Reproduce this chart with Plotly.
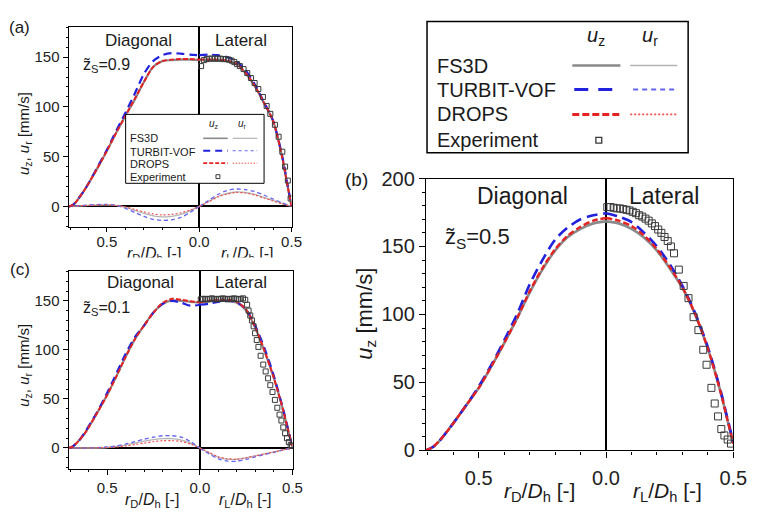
import plotly.graph_objects as go

W, H = 763, 515
FONT = "Liberation Sans, Arial, sans-serif"

# ================= DATA =================
# ---- Panel (a): z_S = 0.9 ----
a_rd = [0.707, 0.69, 0.67, 0.65, 0.62, 0.6, 0.55, 0.5, 0.45, 0.4, 0.35, 0.3, 0.25, 0.2, 0.15, 0.1, 0.05, 0.0]
a_uz_d_fs3d = [0, 1, 4, 9, 17, 23, 39, 56, 74, 91, 107, 125, 140, 146, 147, 147.5, 147.5, 147]
a_uz_d_drops = [0, 1, 4, 9, 17, 23, 39, 56, 74, 91, 108, 125, 140, 146, 147.5, 148, 148, 147.5]
a_uz_d_turbit = [0, 1, 4, 9, 17, 23, 40, 57, 76, 94, 113, 133, 146, 152, 154, 153.5, 152.5, 152]
a_rl = [0, 0.05, 0.1, 0.15, 0.2, 0.25, 0.3, 0.35, 0.4, 0.45, 0.475, 0.5]
a_uz_l_fs3d = [147, 147, 147, 146, 143, 134, 121, 104, 86, 49, 24, 0]
a_uz_l_drops = [147.5, 147.5, 147.5, 146.5, 143.5, 134.5, 121.5, 104.5, 86, 49, 24, 0]
a_uz_l_turbit = [152, 152.5, 152, 150, 146, 137, 123, 105, 86, 50, 25, 0]
a_rd_r = [0.707, 0.6, 0.5, 0.45, 0.4, 0.35, 0.3, 0.25, 0.2, 0.15, 0.1, 0.05, 0]
a_ur_d_fs3d = [0, 1, 1.5, 1, -1, -4, -7, -9.5, -10.5, -10, -8, -4.5, 0]
a_ur_d_turbit = [0, 1.5, 2, 1, -2, -6, -10, -13, -14, -13.5, -11, -6, 0]
a_ur_d_drops = [0, 1, 1.5, 1, -0.5, -3, -5.5, -7.5, -8.5, -8, -6.5, -3.5, 0]
a_rl_r = [0, 0.05, 0.1, 0.15, 0.2, 0.25, 0.3, 0.35, 0.4, 0.45, 0.5]
a_ur_l_fs3d = [0, 5, 10, 13, 14.5, 14, 12, 9, 6, 3, 0]
a_ur_l_turbit = [0, 6, 12, 16, 17.5, 17, 15, 11.5, 7.5, 3.5, 0]
a_ur_l_drops = [0, 4.5, 9.5, 12.5, 14, 13.5, 11.5, 8.5, 5.5, 2.5, 0]
a_exp_r = [0.01, 0.025, 0.04, 0.055, 0.07, 0.085, 0.1, 0.115, 0.13, 0.145, 0.16, 0.175, 0.19, 0.205, 0.22,
           0.24, 0.26, 0.28, 0.3, 0.32, 0.345, 0.365, 0.385, 0.41, 0.43, 0.45, 0.465, 0.48, 0.495]
a_exp_uz = [141, 147, 148, 148.5, 148.5, 148.5, 148.5, 148.5, 148, 148, 147.5, 146.5, 145, 143, 141,
            138, 134, 129, 124, 118, 110, 101, 93, 82, 70, 55, 40, 26, 8]

# ---- Panel (c): z_S = 0.1 ----
c_rd = [0.707, 0.69, 0.67, 0.65, 0.62, 0.6, 0.55, 0.5, 0.45, 0.4, 0.35, 0.3, 0.25, 0.2, 0.15, 0.1, 0.05, 0.0]
c_uz_d_fs3d = [0, 1, 4, 8, 15, 21, 37, 54, 73, 93, 111, 125, 138, 147, 150.5, 150, 149, 148]
c_uz_d_drops = [0, 1, 4, 8, 15, 21, 37, 54, 73, 93, 111, 125, 138, 148, 152, 151, 149.5, 148.5]
c_uz_d_turbit = [0, 1, 4, 8, 16, 22, 38, 56, 76, 96, 113, 125, 138, 147, 150, 148, 145, 146]
c_rl = [0, 0.05, 0.1, 0.15, 0.2, 0.25, 0.3, 0.35, 0.4, 0.45, 0.475, 0.5]
c_uz_l_fs3d = [148, 149.5, 150, 150, 148, 140, 122, 98, 71, 38, 19, 0]
c_uz_l_drops = [148.5, 150, 151, 151, 149, 141, 122.5, 98.5, 71, 38, 19, 0]
c_uz_l_turbit = [146, 147, 149, 150, 148.5, 141, 124, 101, 73, 39, 20, 0]
c_rd_r = [0.707, 0.6, 0.5, 0.45, 0.4, 0.35, 0.3, 0.25, 0.2, 0.15, 0.1, 0.05, 0]
c_ur_d_fs3d = [0, 0, 0.5, 1.5, 3, 5, 7, 8.5, 9.5, 9.5, 8, 5, 0]
c_ur_d_turbit = [0, 0, 1, 2, 4, 6.5, 9, 11, 12.5, 12.5, 11, 6.5, 0]
c_ur_d_drops = [0, 0, 0.5, 1, 2, 3.5, 5, 6.5, 7.5, 7.5, 6.5, 4, 0]
c_rl_r = [0, 0.05, 0.1, 0.15, 0.2, 0.25, 0.3, 0.35, 0.4, 0.45, 0.5]
c_ur_l_fs3d = [0, -5, -9.5, -11.5, -11.5, -10, -8, -6, -4, -2, 0]
c_ur_l_turbit = [0, -6, -11, -13.5, -13.5, -11.5, -9, -6.5, -4.5, -2, 0]
c_ur_l_drops = [0, -4.5, -9, -11, -11.5, -10, -8, -6, -4, -2, 0]
c_exp_r = [0.005, 0.017, 0.029, 0.041, 0.053, 0.065, 0.077, 0.089, 0.101, 0.113, 0.125, 0.137, 0.149,
           0.161, 0.173, 0.185, 0.197, 0.209, 0.221, 0.233, 0.245,
           0.255, 0.263, 0.272, 0.281, 0.29, 0.298, 0.307, 0.316, 0.328, 0.342, 0.355, 0.368,
           0.38, 0.392, 0.405, 0.418, 0.43, 0.44, 0.45, 0.46, 0.47, 0.48, 0.49, 0.497]
c_exp_uz = [151.5, 152, 152, 151.5, 152, 152.5, 152, 151.5, 152, 152, 152.5, 152, 151.5,
            152, 152, 152.5, 152, 151.5, 152, 152.5, 151,
            146, 140, 135, 130, 124, 117, 110, 103, 94, 85, 78, 71,
            64, 57, 49, 41, 34, 28, 21, 15, 10, 6, 3, 2]

# ---- Panel (b): z_S = 0.5 ----
b_rd = [0.707, 0.68, 0.65, 0.6, 0.55, 0.5, 0.45, 0.4, 0.35, 0.3, 0.25, 0.2, 0.15, 0.1, 0.05, 0.0]
b_uz_d_fs3d = [0, 2.5, 8, 20, 33, 46, 62, 79, 97, 116, 133, 147, 157, 163, 167, 168.5]
b_uz_d_drops = [0, 2.5, 8, 20, 33, 46, 62, 79, 97, 117, 134, 148, 158, 164.5, 169, 171]
b_uz_d_turbit = [0, 2.5, 8, 20, 33, 47, 63, 81, 100, 122, 140, 155, 164, 170, 173, 174.5]
b_rl = [0, 0.05, 0.1, 0.15, 0.2, 0.25, 0.3, 0.35, 0.4, 0.45, 0.475, 0.5]
b_uz_l_fs3d = [168.5, 167, 163, 156.5, 147, 134, 119.5, 100, 75, 43, 24, 5]
b_uz_l_drops = [171, 169, 165, 158, 148, 135, 120, 100.5, 75, 43, 24, 5]
b_uz_l_turbit = [174.5, 172, 168, 160, 150, 137, 121, 101, 76, 44, 25, 6]
b_exp_r = [0.005, 0.0175, 0.03, 0.0425, 0.055, 0.0675, 0.08, 0.0925, 0.105, 0.1175, 0.13, 0.1425,
           0.155, 0.1675, 0.18, 0.1925, 0.205, 0.2175, 0.23, 0.2425, 0.255, 0.267, 0.286, 0.305,
           0.324, 0.344, 0.363, 0.382, 0.395, 0.414, 0.427, 0.44, 0.453, 0.465, 0.478, 0.491]
b_exp_uz = [179, 179, 178.5, 178, 178, 177.5, 177, 176.5, 175.5, 174.5, 173, 172,
            170.5, 169, 167, 165, 162.5, 160, 157, 154, 150, 145, 133, 121,
            112, 98, 88.5, 74, 63, 46, 34.5, 25, 15.7, 11, 8, 5]

# tick labels
x_tickvals = [-0.5, 0.0, 0.5]
x_ticktext = ["0.5", "0.0", "0.5"]
y_ticks_ac = [0, 50, 100, 150]
y_ticks_b = [0, 50, 100, 150, 200]

# ================= STYLES =================
ST = {
    "fs3d_uz": dict(color="#8a8a8a", width=2.2),
    "fs3d_ur": dict(color="#b4b4b4", width=1.3),
    "turbit_uz": dict(color="#2222dd", width=2.2, dash="8px,5px"),
    "turbit_ur": dict(color="#6464f0", width=1.3, dash="4px,3px"),
    "drops_uz": dict(color="#e42222", width=2.0, dash="5px,2px"),
    "drops_ur": dict(color="#f05050", width=1.2, dash="2px,2px"),
}

fig = go.Figure()


def neg(v):
    return [-t for t in v]


def add_line(x, y, xa, ya, style, scale=1.0):
    st = dict(style)
    st["width"] = st["width"] * scale
    fig.add_trace(go.Scatter(x=x, y=y, xaxis=xa, yaxis=ya, mode="lines",
                             line=dict(shape="spline", smoothing=0.8, **st),
                             showlegend=False, hoverinfo="skip"))


def add_exp(x, y, xa, ya, size):
    fig.add_trace(go.Scatter(x=x, y=y, xaxis=xa, yaxis=ya, mode="markers",
                             marker=dict(symbol="square-open", size=size, color="#3a3a3a",
                                         line=dict(width=1, color="#3a3a3a")),
                             showlegend=False, hoverinfo="skip"))


# panel (a) -> x/y
for key, vals in [("fs3d_ur", a_ur_d_fs3d), ("turbit_ur", a_ur_d_turbit), ("drops_ur", a_ur_d_drops)]:
    add_line(neg(a_rd_r), vals, "x", "y", ST[key])
for key, vals in [("fs3d_ur", a_ur_l_fs3d), ("turbit_ur", a_ur_l_turbit), ("drops_ur", a_ur_l_drops)]:
    add_line(a_rl_r, vals, "x", "y", ST[key])
for key, vals in [("fs3d_uz", a_uz_d_fs3d), ("turbit_uz", a_uz_d_turbit), ("drops_uz", a_uz_d_drops)]:
    add_line(neg(a_rd), vals, "x", "y", ST[key])
for key, vals in [("fs3d_uz", a_uz_l_fs3d), ("turbit_uz", a_uz_l_turbit), ("drops_uz", a_uz_l_drops)]:
    add_line(a_rl, vals, "x", "y", ST[key])
add_exp(a_exp_r, a_exp_uz, "x", "y", 5)

# panel (c) -> x2/y2
for key, vals in [("fs3d_ur", c_ur_d_fs3d), ("turbit_ur", c_ur_d_turbit), ("drops_ur", c_ur_d_drops)]:
    add_line(neg(c_rd_r), vals, "x2", "y2", ST[key])
for key, vals in [("fs3d_ur", c_ur_l_fs3d), ("turbit_ur", c_ur_l_turbit), ("drops_ur", c_ur_l_drops)]:
    add_line(c_rl_r, vals, "x2", "y2", ST[key])
for key, vals in [("fs3d_uz", c_uz_d_fs3d), ("turbit_uz", c_uz_d_turbit), ("drops_uz", c_uz_d_drops)]:
    add_line(neg(c_rd), vals, "x2", "y2", ST[key])
for key, vals in [("fs3d_uz", c_uz_l_fs3d), ("turbit_uz", c_uz_l_turbit), ("drops_uz", c_uz_l_drops)]:
    add_line(c_rl, vals, "x2", "y2", ST[key])
add_exp(c_exp_r, c_exp_uz, "x2", "y2", 5)

# panel (b) -> x3/y3
bst = {"fs3d_uz": dict(color="#8a8a8a", width=2.2),
       "turbit_uz": dict(color="#2222dd", width=2.2, dash="11px,6px"),
       "drops_uz": dict(color="#e42222", width=2.0, dash="6px,3px")}
for key, vals in [("fs3d_uz", b_uz_d_fs3d), ("turbit_uz", b_uz_d_turbit), ("drops_uz", b_uz_d_drops)]:
    add_line(neg(b_rd), vals, "x3", "y3", bst[key], 1.2)
for key, vals in [("fs3d_uz", b_uz_l_fs3d), ("turbit_uz", b_uz_l_turbit), ("drops_uz", b_uz_l_drops)]:
    add_line(b_rl, vals, "x3", "y3", bst[key], 1.2)
add_exp(b_exp_r, b_exp_uz, "x3", "y3", 7)


# ================= AXES =================
def dom_x(x0, x1):
    return [x0 / W, x1 / W]


def dom_y(top, bottom):
    return [1 - bottom / H, 1 - top / H]


def xaxis(domain, anchor, fs, tl, so=0):
    return dict(domain=domain, anchor=anchor, range=[-0.7071, 0.5], tickmode="array",
                tickvals=x_tickvals, ticktext=x_ticktext, ticks="outside", ticklen=tl,
                tickwidth=1.2, tickcolor="black", showline=True, linecolor="black",
                linewidth=1.3, mirror=True, showgrid=False, zeroline=True,
                zerolinecolor="black", zerolinewidth=1.5, ticklabelstandoff=so,
                tickfont=dict(family=FONT, size=fs, color="#222"),
                minor=dict(tickmode="linear", tick0=0, dtick=0.1, ticks="outside",
                           ticklen=max(2, tl // 2), tickwidth=1, tickcolor="black", showgrid=False),
                fixedrange=True)


def yaxis(domain, anchor, rng, tv, fs, tl):
    return dict(domain=domain, anchor=anchor, range=rng, tickmode="array", tickvals=tv,
                ticktext=[str(v) for v in tv], ticks="outside", ticklen=tl, tickwidth=1.2,
                tickcolor="black", showline=True, linecolor="black", linewidth=1.3,
                mirror=True, showgrid=False, zeroline=True, zerolinecolor="black",
                zerolinewidth=1.5, tickfont=dict(family=FONT, size=fs, color="#222"),
                minor=dict(tickmode="linear", tick0=0, dtick=10, ticks="outside",
                           ticklen=max(2, tl // 2), tickwidth=1, tickcolor="black", showgrid=False),
                fixedrange=True)


fig.update_layout(
    width=W, height=H, margin=dict(l=0, r=0, t=0, b=0),
    paper_bgcolor="white", plot_bgcolor="white", showlegend=False,
    xaxis=xaxis(dom_x(70, 297), "y", 15, 4, -3),
    yaxis=yaxis(dom_y(17, 226), "x", [-21, 180], y_ticks_ac, 15, 5),
    xaxis2=xaxis(dom_x(70, 298), "y2", 15, 5, 0),
    yaxis2=yaxis(dom_y(272, 478), "x2", [-21, 180], y_ticks_ac, 15, 5),
    xaxis3=xaxis(dom_x(434, 747), "y3", 20, 6, 3),
    yaxis3=yaxis(dom_y(175, 459), "x3", [0, 200], y_ticks_b, 20, 6),
)

# ================= TEXT =================
ann = []


def txt(x, y, s, size, xanchor="center", yanchor="middle", angle=0, color="#1a1a1a", **kw):
    ann.append(dict(x=x / W, y=1 - y / H, xref="paper", yref="paper", text=s, showarrow=False,
                    xanchor=xanchor, yanchor=yanchor, textangle=angle,
                    font=dict(family=FONT, size=size, color=color), **kw))


UZUR = "<i>u</i><sub>z</sub>, <i>u</i><sub>r</sub> [mm/s]"
RD = "<i>r</i><sub>D</sub>/<i>D</i><sub>h</sub> [-]"
RL = "<i>r</i><sub>L</sub>/<i>D</i><sub>h</sub> [-]"

# panel (a)
txt(20, 17, "(a)", 17)
txt(141, 31, "Diagonal", 17)
txt(245, 31, "Lateral", 17)
txt(83, 57, "z\u0303<sub>S</sub>=0.9", 16, xanchor="left")
txt(25, 128, UZUR, 15, angle=-90)
txt(157, 254, RD, 16)
txt(252, 254, RL, 16)
# white cover that clips the lower part of the (a) x-titles, as in the reference
ann.append(dict(x=205 / W, y=1 - 262.5 / H, xref="paper", yref="paper", text=" ",
                showarrow=False, width=190, height=8, bgcolor="white", borderpad=0,
                xanchor="center", yanchor="middle", font=dict(size=6)))

# panel (c)
txt(20, 270, "(c)", 17)
txt(143, 284, "Diagonal", 17)
txt(245, 284, "Lateral", 17)
txt(83, 311, "z\u0303<sub>S</sub>=0.1", 16, xanchor="left")
txt(25, 370, UZUR, 15, angle=-90)
txt(155, 523, RD, 16, yanchor="bottom")
txt(250, 523, RL, 16, yanchor="bottom")

# panel (b)
txt(363, 176, "(b)", 19)
txt(532, 193, "Diagonal", 23)
txt(676, 193, "Lateral", 23)
txt(451, 237, "z\u0303<sub>S</sub>=0.5", 22, xanchor="left")
txt(372, 316, "<i>u</i><sub>z</sub> [mm/s]", 22, angle=-90)
txt(550, 518, RD, 21, yanchor="bottom")
txt(680, 518, RL, 21, yanchor="bottom")

# ================= LEGENDS =================
shapes = []


def rect(x0, y0, x1, y1, lw, fill="white", color="black"):
    shapes.append(dict(type="rect", xref="paper", yref="paper", x0=x0 / W, x1=x1 / W,
                       y0=1 - y1 / H, y1=1 - y0 / H, line=dict(color=color, width=lw),
                       fillcolor=fill, layer="above"))


def seg(x0, x1, y, color, width, dash="solid"):
    shapes.append(dict(type="line", xref="paper", yref="paper", x0=x0 / W, x1=x1 / W,
                       y0=1 - y / H, y1=1 - y / H, line=dict(color=color, width=width, dash=dash),
                       layer="above"))


# big legend
rect(435, 11, 701, 148, 1.5)
txt(607, 27, "<i>u</i><sub>z</sub>", 20)
txt(662, 27, "<i>u</i><sub>r</sub>", 20)
rows_big = [("FS3D", 57), ("TURBIT-VOF", 83), ("DROPS", 108), ("Experiment", 135)]
for name, yy in rows_big:
    txt(443, yy, name, 20, xanchor="left")
seg(583, 632, 57, "#8a8a8a", 2.6)
seg(642, 690, 57, "#b4b4b4", 1.6)
seg(585, 632, 82, "#2222dd", 3.2, "14px,10px")
seg(645, 690, 82, "#6464f0", 1.8, "5px,4px")
seg(583, 632, 108, "#e42222", 3.0, "7px,3px")
seg(642, 690, 108, "#f05050", 1.6, "2px,2px")
rect(607, 132, 613, 138, 1.3, fill="rgba(0,0,0,0)", color="#3a3a3a")

# small legend inside (a)
rect(128, 108, 269, 180, 1.0)
txt(218, 118, "<i>u</i><sub>z</sub>", 10)
txt(247, 118, "<i>u</i><sub>r</sub>", 10)
rows_small = [("FS3D", 133), ("TURBIT-VOF", 147), ("DROPS", 160), ("Experiment", 173)]
for name, yy in rows_small:
    txt(130, yy, name, 11, xanchor="left")
seg(207, 232, 133, "#8a8a8a", 1.6)
seg(237, 262, 133, "#b4b4b4", 1.2)
seg(207, 232, 146, "#2222dd", 2.0, "7px,5px")
seg(237, 262, 146, "#6464f0", 1.2, "3px,3px")
seg(207, 232, 159, "#e42222", 1.8, "4px,2px")
seg(237, 262, 159, "#f05050", 1.0, "1.5px,1.5px")
rect(220, 171, 224, 175, 1.0, fill="rgba(0,0,0,0)", color="#3a3a3a")

fig.update_layout(annotations=ann, shapes=shapes)

fig.write_html("out.html")
